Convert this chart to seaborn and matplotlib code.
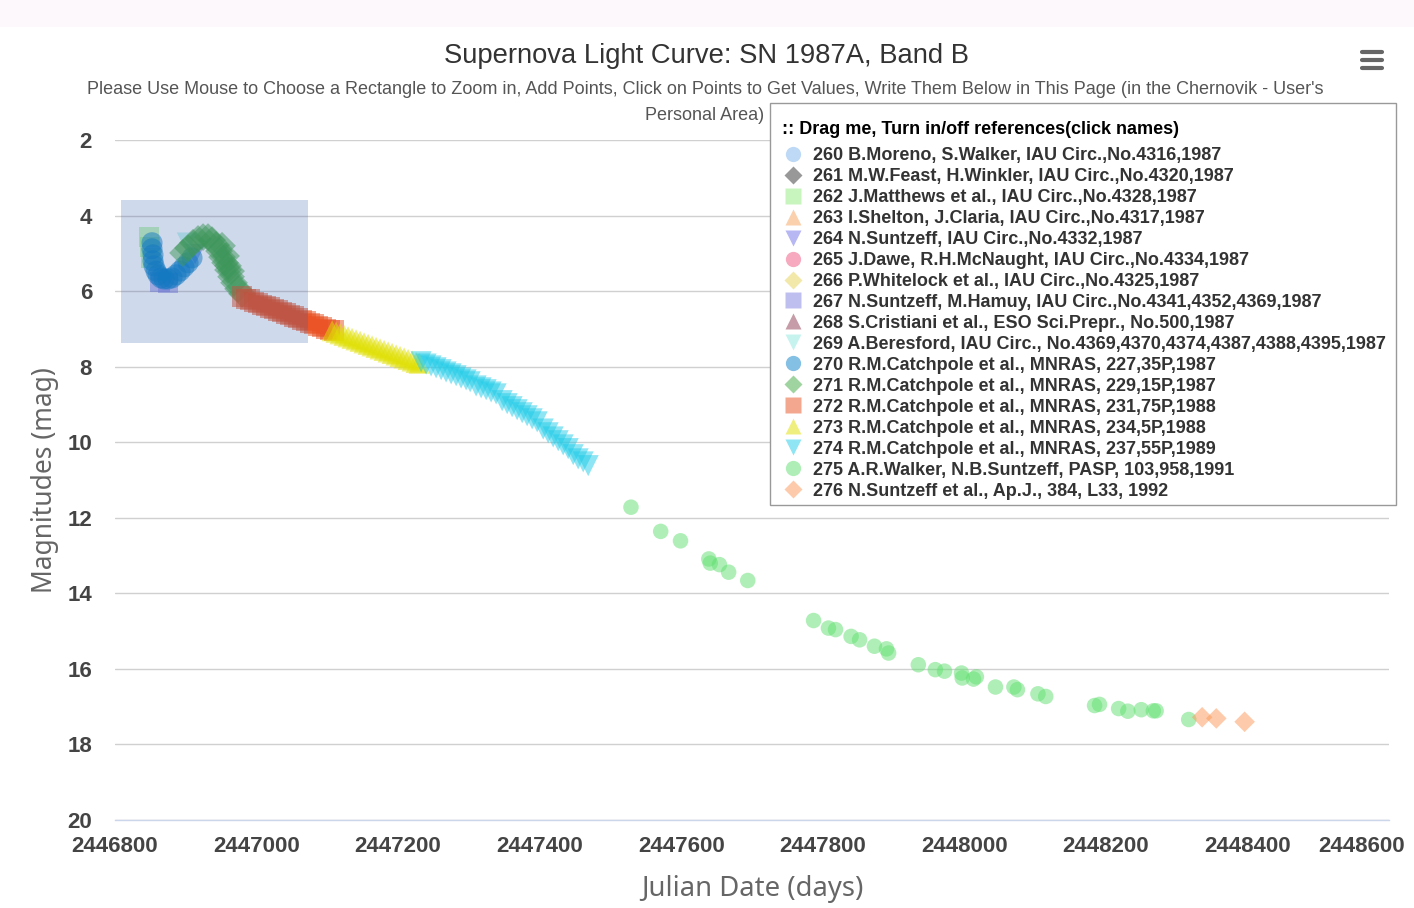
import numpy as np
import pandas as pd
import matplotlib
matplotlib.use("Agg")
import matplotlib.pyplot as plt
import seaborn as sns
from matplotlib.lines import Line2D
from matplotlib.patches import Rectangle
from matplotlib.transforms import ScaledTranslation

# ---------------- text ----------------
title = "Supernova Light Curve: SN 1987A, Band B"
subtitle1 = ("Please Use Mouse to Choose a Rectangle to Zoom in, Add Points, Click on Points to Get Values, "
             "Write Them Below in This Page (in the Chernovik - User's")
subtitle2 = "Personal Area)"
x_label = "Julian Date (days)"
y_label = "Magnitudes (mag)"
legend_title = ":: Drag me, Turn in/off references(click names)"

# ---------------- references ----------------
ref_ids = ["260", "261", "262", "263", "264", "265", "266", "267", "268",
           "269", "270", "271", "272", "273", "274", "275", "276"]
ref_labels = [
    "260 B.Moreno, S.Walker, IAU Circ.,No.4316,1987",
    "261 M.W.Feast, H.Winkler, IAU Circ.,No.4320,1987",
    "262 J.Matthews et al., IAU Circ.,No.4328,1987",
    "263 I.Shelton, J.Claria, IAU Circ.,No.4317,1987",
    "264 N.Suntzeff, IAU Circ.,No.4332,1987",
    "265 J.Dawe, R.H.McNaught, IAU Circ.,No.4334,1987",
    "266 P.Whitelock et al., IAU Circ.,No.4325,1987",
    "267 N.Suntzeff, M.Hamuy, IAU Circ.,No.4341,4352,4369,1987",
    "268 S.Cristiani et al., ESO Sci.Prepr., No.500,1987",
    "269 A.Beresford, IAU Circ., No.4369,4370,4374,4387,4388,4395,1987",
    "270 R.M.Catchpole et al., MNRAS, 227,35P,1987",
    "271 R.M.Catchpole et al., MNRAS, 229,15P,1987",
    "272 R.M.Catchpole et al., MNRAS, 231,75P,1988",
    "273 R.M.Catchpole et al., MNRAS, 234,5P,1988",
    "274 R.M.Catchpole et al., MNRAS, 237,55P,1989",
    "275 A.R.Walker, N.B.Suntzeff, PASP, 103,958,1991",
    "276 N.Suntzeff et al., Ap.J., 384, L33, 1992",
]
ref_markers = ["o", "D", "s", "^", "v", "o", "D", "s", "^",
               "v", "o", "D", "s", "^", "v", "o", "D"]
ref_colors = ["#7cb5ec", "#333333", "#90ed7d", "#f7a35c", "#7070e8", "#ee5580",
              "#e4d354", "#8080e0", "#8d3a50", "#91e8e1", "#0a82c8", "#40a840",
              "#ea5020", "#e0e000", "#20cce8", "#60e070", "#fc9858"]
ref_sizes = [220, 190, 200, 220, 220, 220, 190, 200, 220,
             220, 230, 200, 220, 230, 230, 125, 110]

# ---------------- data (Julian date, B magnitude) ----------------
jd_262 = [2446848.1, 2446849.5, 2446850.9]
mag_262 = [4.57, 4.83, 5.12]

jd_264 = [2446913.1]
mag_264 = [5.02]

jd_267 = [2446863.6, 2446874.9]
mag_267 = [5.76, 5.78]

jd_269 = [2446901.8]
mag_269 = [4.72]

jd_270 = [2446852.3, 2446852.3, 2446853.7, 2446853.7, 2446855.1, 2446858.0,
          2446860.8, 2446865.0, 2446869.3, 2446874.9, 2446880.6, 2446886.2,
          2446891.9, 2446897.5, 2446903.2, 2446908.8]
mag_270 = [4.72, 4.88, 5.04, 5.20, 5.33, 5.47, 5.57, 5.65, 5.68, 5.68, 5.65,
           5.57, 5.47, 5.36, 5.25, 5.12]

jd_271 = [2446896.1, 2446903.2, 2446910.2, 2446917.3, 2446924.4, 2446931.4,
          2446937.1, 2446942.8, 2446947.0, 2446951.2, 2446955.5, 2446959.7,
          2446964.0, 2446968.2, 2446973.9, 2446979.5,
          2446951.2, 2446956.9, 2446959.7, 2446964.0]
mag_271 = [4.99, 4.86, 4.72, 4.62, 4.57, 4.57, 4.65, 4.78, 4.94, 5.10, 5.25,
           5.44, 5.62, 5.78, 5.94, 6.07,
           4.80, 5.07, 5.33, 5.47]

jd_272 = [2446979.5, 2446985.2, 2446990.8, 2446996.5, 2447002.1, 2447007.8,
          2447013.4, 2447019.1, 2447024.7, 2447030.4, 2447036.0, 2447041.7,
          2447047.4, 2447053.0, 2447058.7, 2447064.3, 2447070.0, 2447075.6,
          2447081.3, 2447086.9, 2447092.6, 2447098.2, 2447103.9, 2447109.5]
mag_272 = [6.15, 6.21, 6.23, 6.29, 6.31, 6.37, 6.39, 6.44, 6.47, 6.52, 6.55,
           6.60, 6.63, 6.68, 6.71, 6.76, 6.79, 6.84, 6.87, 6.92, 6.95, 7.00,
           7.03, 7.05]

jd_273 = [2447106.7, 2447112.3, 2447118.0, 2447123.6, 2447129.3, 2447134.9,
          2447140.6, 2447146.3, 2447151.9, 2447157.6, 2447163.2, 2447168.9,
          2447174.5, 2447180.2, 2447185.9, 2447191.5, 2447197.2, 2447202.8,
          2447208.5, 2447214.1, 2447219.8, 2447225.4, 2447229.7]
mag_273 = [7.05, 7.09, 7.13, 7.17, 7.21, 7.25, 7.29, 7.33, 7.37, 7.41, 7.45,
           7.49, 7.53, 7.57, 7.61, 7.65, 7.69, 7.73, 7.77, 7.81, 7.85, 7.89,
           7.91]

jd_274 = [2447232.5, 2447239.6, 2447246.6, 2447253.7, 2447260.8, 2447267.8,
          2447274.9, 2447282.0, 2447289.0, 2447296.1, 2447301.8,
          2447310.2, 2447317.3, 2447324.4, 2447331.4, 2447338.5,
          2447347.0, 2447354.1, 2447361.1, 2447368.2, 2447375.3, 2447382.3,
          2447389.4, 2447396.5,
          2447405.0, 2447412.0, 2447419.1, 2447426.2, 2447433.2, 2447440.3,
          2447447.4, 2447454.4, 2447461.5, 2447468.6]
mag_274 = [7.87, 7.93, 7.98, 8.03, 8.08, 8.14, 8.19, 8.24, 8.30, 8.35, 8.40,
           8.51, 8.56, 8.61, 8.67, 8.72,
           8.90, 8.98, 9.06, 9.14, 9.22, 9.30, 9.38, 9.46,
           9.65, 9.75, 9.86, 9.96, 10.07, 10.17,
           10.33, 10.44, 10.52, 10.62]

jd_275 = [2447529, 2447571, 2447599, 2447639, 2447641, 2447654, 2447667,
          2447694, 2447787, 2447808, 2447818, 2447840, 2447852, 2447873,
          2447890, 2447893, 2447935, 2447959, 2447972, 2447996, 2447997,
          2448013, 2448017, 2448044, 2448070, 2448075, 2448104, 2448115,
          2448184, 2448191, 2448218, 2448231, 2448250, 2448267, 2448271,
          2448317]
mag_275 = [11.72, 12.36, 12.61, 13.09, 13.20, 13.24, 13.44, 13.66, 14.72,
           14.92, 14.96, 15.14, 15.23, 15.40, 15.47, 15.58, 15.89, 16.02,
           16.06, 16.11, 16.24, 16.27, 16.21, 16.48, 16.48, 16.55, 16.66,
           16.73, 16.97, 16.94, 17.05, 17.12, 17.08, 17.11, 17.11, 17.34]

jd_276 = [2448336, 2448356, 2448396]
mag_276 = [17.28, 17.31, 17.40]

series = {
    "262": (jd_262, mag_262), "264": (jd_264, mag_264),
    "267": (jd_267, mag_267), "269": (jd_269, mag_269),
    "270": (jd_270, mag_270), "271": (jd_271, mag_271),
    "272": (jd_272, mag_272), "273": (jd_273, mag_273),
    "274": (jd_274, mag_274), "275": (jd_275, mag_275),
    "276": (jd_276, mag_276),
}

x_ticks = [2446800, 2447000, 2447200, 2447400, 2447600, 2447800,
           2448000, 2448200, 2448400, 2448600]
x_tick_labels = [str(v) for v in x_ticks]
y_ticks = [2, 4, 6, 8, 10, 12, 14, 16, 18, 20]
y_tick_labels = [str(v) for v in y_ticks]

# zoom-selection rectangle shown in the screenshot (JD range, mag range)
sel_jd = [2446808.5, 2447072.8]
sel_mag = [3.59, 7.37]

rows = []
for rid in ref_ids:
    if rid in series:
        jd, mg = series[rid]
        for a, b in zip(jd, mg):
            rows.append((rid, a, b))
df = pd.DataFrame(rows, columns=["ref", "jd", "mag"])

# ---------------- figure ----------------
sns.set_style("white")
plt.rcParams["font.family"] = ["Liberation Sans", "DejaVu Sans"]

W, H = 1414, 908
fig = plt.figure(figsize=(W / 100, H / 100), dpi=100)
fig.patch.set_facecolor("white")
fig.patches.append(Rectangle((0, 1 - 27 / H), 1, 27 / H, transform=fig.transFigure,
                             facecolor="#fcf8fc", edgecolor="none", zorder=-10))

ax = fig.add_axes([115 / W, (H - 820) / H, 1274 / W, 680 / H])
ax.set_facecolor("none")

palette = dict(zip(ref_ids, ref_colors))
markers = dict(zip(ref_ids, ref_markers))
sizes = dict(zip(ref_ids, ref_sizes))
present = [r for r in ref_ids if r in series]

sns.scatterplot(data=df, x="jd", y="mag", hue="ref", style="ref", size="ref",
                hue_order=present, style_order=present, size_order=present,
                palette={r: palette[r] for r in present},
                markers={r: markers[r] for r in present},
                sizes={r: sizes[r] for r in present},
                alpha=0.5, linewidth=0, edgecolor="none",
                legend=False, ax=ax, zorder=3)

ax.add_patch(Rectangle((sel_jd[0], sel_mag[0]), sel_jd[1] - sel_jd[0],
                       sel_mag[1] - sel_mag[0],
                       facecolor=(51 / 255, 92 / 255, 173 / 255, 0.23),
                       edgecolor="none", zorder=5))

ax.set_xlim(2446800, 2448600)
ax.set_ylim(20, 2)
ax.set_xticks(x_ticks)
ax.set_xticklabels(x_tick_labels)
ax.set_yticks(y_ticks)
ax.set_yticklabels(y_tick_labels)
ax.grid(axis="y", color="#d0d0d0", linewidth=1.0)
ax.grid(axis="x", visible=False)
for sp in ["top", "right", "left"]:
    ax.spines[sp].set_visible(False)
ax.spines["bottom"].set_color("#ccd6eb")
ax.spines["bottom"].set_linewidth(1.0)
ax.spines["bottom"].set_zorder(6)

ax.tick_params(axis="x", direction="out", length=7.5, width=1.0, color="#ccd6eb",
               pad=4, labelsize=16, labelcolor="#444444")
ax.tick_params(axis="y", length=0, pad=16.5, labelsize=16, labelcolor="#444444")
for lab in ax.get_xticklabels() + ax.get_yticklabels():
    lab.set_fontweight("bold")
last = ax.get_xticklabels()[-1]
last.set_transform(last.get_transform() + ScaledTranslation(-27 / 100, 0, fig.dpi_scale_trans))

ax.set_xlabel(x_label, fontsize=19.8, color="#666666", family="Noto Sans",
              fontweight="bold")
ax.set_ylabel(y_label, fontsize=19, color="#666666", family="Noto Sans",
              fontweight="bold")
ax.xaxis.set_label_coords(0.5, -(889 - 820) / 680, transform=ax.transAxes)
ax.yaxis.set_label_coords(-(115 - 45) / 1274, 0.5, transform=ax.transAxes)
ax.xaxis.label.set_va("center")
ax.yaxis.label.set_va("center")

fig.text(707 / W, 1 - 56 / H, title, ha="center", va="center", fontsize=19.7,
         color="#333333")
fig.text(705 / W, 1 - 90 / H, subtitle1, ha="center", va="center", fontsize=13,
         color="#555555")
fig.text(705 / W, 1 - 115 / H, subtitle2, ha="center", va="center", fontsize=13,
         color="#555555")

# hamburger menu icon
for yy in [52, 60, 68]:
    fig.add_artist(Line2D([1362 / W, 1382 / W], [1 - yy / H, 1 - yy / H],
                          transform=fig.transFigure, color="#666666",
                          linewidth=3.0, solid_capstyle="round"))

# legend box (frame + title) and entries
fig.patches.append(Rectangle((770 / W, 1 - 505 / H), (1396 - 770) / W, (505 - 103) / H,
                             transform=fig.transFigure, facecolor="white",
                             edgecolor="#999999", linewidth=1.0, zorder=4))
fig.text(782 / W, 1 - 129 / H, legend_title, ha="left", va="center", fontsize=13,
         fontweight="bold", color="#000000", zorder=6)

handles = []
for rid, lab, mk, col in zip(ref_ids, ref_labels, ref_markers, ref_colors):
    ms = 9 if mk == "D" else 11
    handles.append(Line2D([], [], linestyle="none", marker=mk, markersize=ms,
                          markerfacecolor=col, markeredgecolor="none", alpha=0.5,
                          label=lab))
fs_px = 13 * 100 / 72
leg = fig.legend(handles=handles, loc="upper left",
                 bbox_to_anchor=((793 - 0.75 * fs_px) / W, 1 - 147 / H),
                 bbox_transform=fig.transFigure,
                 frameon=False, fontsize=13, borderpad=0, handlelength=1.5,
                 handletextpad=0.35, labelspacing=0.22, borderaxespad=0)
leg.set_zorder(6)
for t in leg.get_texts():
    t.set_color("#333333")
    t.set_fontweight("bold")

fig.savefig("out.png", dpi=100)
